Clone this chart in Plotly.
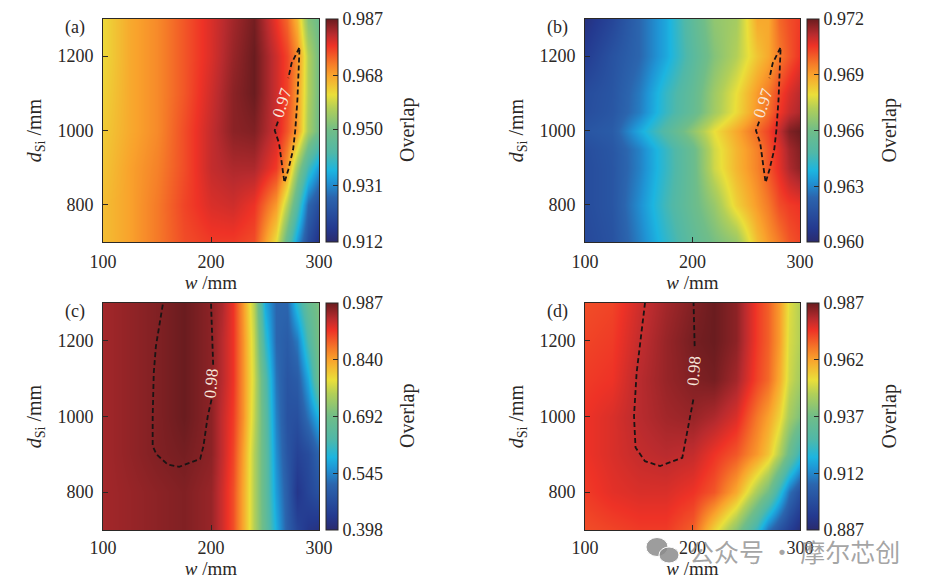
import plotly.graph_objects as go

# ---------- data ----------
D_ROWS = [700, 800, 900, 1000, 1100, 1200, 1300]
D_ROWS_B = [700, 800, 900, 950, 1000, 1050, 1100, 1200, 1300]
W_A = [100, 125, 150, 175, 200, 220, 240, 260, 270, 280, 290, 300]
W_C = [100, 150, 175, 200, 210, 220, 230, 240, 250, 260, 270, 280, 290, 300]

Z_A = [
    [.9653, .9683, .9720, .9758, .9773, .9773, .9758, .9615, .9465, .9330, .9210, .9143],
    [.9653, .9683, .9720, .9765, .9795, .9803, .9780, .9690, .9570, .9435, .9270, .9210],
    [.9645, .9683, .9713, .9758, .9810, .9825, .9825, .9773, .9690, .9540, .9405, .9323],
    [.9638, .9675, .9705, .9758, .9810, .9848, .9855, .9803, .9750, .9690, .9555, .9488],
    [.9630, .9675, .9705, .9750, .9803, .9848, .9870, .9803, .9765, .9690, .9570, .9495],
    [.9623, .9675, .9705, .9750, .9795, .9840, .9870, .9803, .9765, .9705, .9570, .9495],
    [.9623, .9675, .9705, .9750, .9795, .9833, .9863, .9780, .9735, .9660, .9518, .9488],
]
Z_B = [
    [.96132, .96168, .96288, .96420, .96540, .96612, .96672, .96852, .96912, .96960, .97008, .97032],
    [.96144, .96180, .96312, .96456, .96576, .96672, .96816, .96912, .96960, .97020, .97044, .97056],
    [.96144, .96180, .96288, .96432, .96576, .96756, .96864, .96948, .97008, .97068, .97128, .97164],
    [.96150, .96185, .96290, .96435, .96580, .96760, .96866, .96950, .97012, .97074, .97140, .97175],
    [.96180, .96204, .96360, .96504, .96660, .96792, .96888, .96984, .97032, .97104, .97176, .97200],
    [.96150, .96185, .96282, .96436, .96560, .96690, .96800, .96920, .96975, .97050, .97100, .97130],
    [.96144, .96180, .96276, .96432, .96552, .96684, .96792, .96912, .96960, .97032, .97080, .97116],
    [.96084, .96168, .96240, .96360, .96516, .96636, .96720, .96840, .96888, .96960, .97008, .97056],
    [.96036, .96120, .96240, .96360, .96540, .96660, .96696, .96888, .96888, .96984, .97020, .97044],
]
Z_C = [
    [.9576, .9693, .9752, .9634, .9340, .8987, .8339, .7514, .6689, .5806, .5040, .4569, .4275, .4157],
    [.9576, .9693, .9752, .9634, .9340, .8987, .8339, .7514, .6631, .5629, .4981, .4275, .4569, .4805],
    [.9576, .9752, .9811, .9693, .9399, .9045, .8398, .7514, .6631, .5511, .4864, .4510, .4687, .5158],
    [.9576, .9752, .9870, .9693, .9399, .9104, .8515, .7632, .6572, .5394, .4805, .4746, .5276, .5865],
    [.9576, .9752, .9870, .9693, .9457, .9163, .8515, .7691, .6454, .5276, .4864, .4981, .5747, .6925],
    [.9576, .9752, .9870, .9693, .9457, .9163, .8515, .7632, .6100, .5158, .4981, .5335, .6336, .7043],
    [.9576, .9752, .9870, .9693, .9516, .9163, .8456, .7514, .5747, .5158, .5158, .6042, .6748, .7043],
]
Z_D = [
    [.972, .973, .974, .974, .970, .955, .941, .923, .909, .901, .895, .889],
    [.974, .976, .977, .977, .975, .971, .961, .945, .937, .923, .909, .900],
    [.975, .977, .979, .980, .979, .975, .971, .963, .957, .947, .935, .923],
    [.975, .977, .980, .982, .983, .981, .977, .967, .962, .955, .945, .939],
    [.974, .975, .980, .983, .985, .986, .982, .973, .969, .961, .950, .945],
    [.973, .974, .979, .983, .986, .987, .984, .974, .970, .963, .951, .947],
    [.972, .973, .978, .982, .985, .987, .984, .974, .970, .963, .952, .947],
]

ZMIN = [0.912, 0.960, 0.398, 0.887]
ZMAX = [0.987, 0.972, 0.987, 0.987]
CBAR_TICKS = [
    [0.912, 0.931, 0.950, 0.968, 0.987],
    [0.960, 0.963, 0.966, 0.969, 0.972],
    [0.398, 0.545, 0.692, 0.840, 0.987],
    [0.887, 0.912, 0.937, 0.962, 0.987],
]
CBAR_LABELS = [
    ["0.912", "0.931", "0.950", "0.968", "0.987"],
    ["0.960", "0.963", "0.966", "0.969", "0.972"],
    ["0.398", "0.545", "0.692", "0.840", "0.987"],
    ["0.887", "0.912", "0.937", "0.962", "0.987"],
]
PANEL_LABELS = ["(a)", "(b)", "(c)", "(d)"]

# contour line pieces (w, d), broken at the inline labels
TOP_W1 = [262, 259, 263, 268, 271.5, 276, 278, 280, 282, 274.6, 271.6]
TOP_D1 = [1024, 1000, 966, 860, 894, 948, 1000, 1082, 1224, 1181, 1141]
C_W1 = [200.5, 197, 193, 190, 170.5, 160, 149.5, 146, 146, 147, 149, 155.6]
C_D1 = [1045, 1001, 922, 888, 867, 873, 900, 922, 1001, 1115, 1186, 1300]
C_W2 = [202, 200.8, 200]
C_D2 = [1137, 1221, 1300]
D_W1 = [200.8, 194.6, 190.5, 169.8, 155.8, 147, 145.6, 148, 151, 155.8]
D_D1 = [1045, 948, 891, 869, 882, 918, 1001, 1115, 1186, 1300]
D_W2 = [202, 201]
D_D2 = [1186, 1300]

CONTOURS = [
    [(TOP_W1, TOP_D1)],
    [(TOP_W1, TOP_D1)],
    [(C_W1, C_D1), (C_W2, C_D2)],
    [(D_W1, D_D1), (D_W2, D_D2)],
]
CONTOUR_TEXT = [
    ("0.97", 266, 1075, -72),
    ("0.97", 266, 1075, -72),
    ("0.98", 200, 1088, -85),
    ("0.98", 201, 1120, -85),
]

# ---------- style ----------
W, H = 927, 587
JET = [
    [0.00, "#2a2a6e"], [0.06, "#24398f"], [0.20, "#2b65ae"], [0.27, "#1f95d5"],
    [0.32, "#1cb5e0"], [0.40, "#50b8a8"], [0.50, "#70bd88"], [0.60, "#b2cf58"],
    [0.66, "#eadf3a"], [0.75, "#f9a22c"], [0.80, "#f57a28"], [0.88, "#ee3226"],
    [0.93, "#b92b2e"], [1.00, "#6a1c1f"],
]
SERIF = "Liberation Serif, Times New Roman, serif"
INK = "#2b2826"
BOXES = [
    (103, 319, 19, 242, 325.5),
    (585, 800, 19, 242, 807),
    (103, 319, 303, 530, 325.5),
    (585, 800, 303, 530, 807),
]
XTICK_GAP = [3, 3, 1, 1]
ZS = [(W_A, D_ROWS, Z_A), (W_A, D_ROWS_B, Z_B), (W_C, D_ROWS, Z_C), (W_A, D_ROWS, Z_D)]

fig = go.Figure()
ann = []
for i, (x0, x1, y0, y1, cx) in enumerate(BOXES):
    n = "" if i == 0 else str(i + 1)
    xw, yd, z = ZS[i]
    fig.add_trace(go.Heatmap(
        x=xw, y=yd, z=z, xaxis="x" + n, yaxis="y" + n,
        zmin=ZMIN[i], zmax=ZMAX[i], zsmooth="best", colorscale=JET,
        colorbar=dict(
            x=cx / W, xanchor="left", xpad=0, ypad=0,
            y=1 - (y0 + y1) / 2 / H, yanchor="middle",
            len=(y1 - y0) / H, thickness=12,
            tickmode="array", tickvals=CBAR_TICKS[i], ticktext=CBAR_LABELS[i],
            ticks="inside", ticklen=5, tickcolor=INK, tickwidth=1,
            outlinecolor=INK, outlinewidth=1,
            tickfont=dict(family=SERIF, size=18, color=INK),
        ),
    ))
    for px, py in CONTOURS[i]:
        fig.add_trace(go.Scatter(
            x=px, y=py, xaxis="x" + n, yaxis="y" + n, mode="lines",
            line=dict(color="#1a1414", width=1.8, dash="5px,3px"),
            hoverinfo="skip", showlegend=False,
        ))
    axis = dict(
        showgrid=False, zeroline=False, showline=True, mirror=True,
        linecolor=INK, linewidth=1, ticks="inside", ticklen=5, tickcolor=INK,
        tickfont=dict(family=SERIF, size=18, color=INK),
    )
    fig.update_layout({
        "xaxis" + n: dict(
            axis, domain=[x0 / W, x1 / W], range=[100, 300], anchor="y" + n,
            tickvals=[100, 200, 300], ticktext=["100", "200", "300"],
            ticklabelstandoff=XTICK_GAP[i],
            title=dict(text="<i>w</i> /mm", standoff=XTICK_GAP[i] + 1,
                       font=dict(family=SERIF, size=19, color=INK)),
        ),
        "yaxis" + n: dict(
            axis, domain=[1 - y1 / H, 1 - y0 / H], range=[700, 1300], anchor="x" + n,
            tickvals=[800, 1000, 1200], ticktext=["800", "1000", "1200"],
            ticklabelstandoff=5,
            title=dict(text="<i>d</i><sub>Si</sub> /mm", standoff=10,
                       font=dict(family=SERIF, size=20, color=INK)),
        ),
    })
    ann.append(dict(
        text=PANEL_LABELS[i], xref="paper", yref="paper", showarrow=False,
        x=(x0 - 28) / W, y=1 - (y0 + 8) / H, xanchor="center", yanchor="middle",
        font=dict(family=SERIF, size=18, color=INK),
    ))
    ann.append(dict(
        text="Overlap", xref="paper", yref="paper", showarrow=False, textangle=-90,
        x=(cx + 82) / W, y=1 - (y0 + y1) / 2 / H, xanchor="center", yanchor="middle",
        font=dict(family=SERIF, size=20, color=INK),
    ))
    t, tx, ty, ta = CONTOUR_TEXT[i]
    ann.append(dict(
        text=t, xref="x" + n, yref="y" + n, x=tx, y=ty, showarrow=False, textangle=ta,
        font=dict(family=SERIF, size=17, color="#f7e6da"),
    ))

# watermark
ann.append(dict(
    text="公众号 · 摩尔芯创", xref="paper", yref="paper", showarrow=False,
    x=794 / W, y=1 - 551 / H, xanchor="center", yanchor="middle",
    font=dict(family="Noto Sans CJK SC", size=25, color="rgba(130,130,130,0.72)"),
))
WATERMARK_ICON = [(657, 547, 11, 9.5), (669, 555, 10, 8)]
shapes = [
    dict(type="circle", xref="paper", yref="paper", line=dict(color="white", width=1),
         fillcolor="rgba(140,140,140,0.85)",
         x0=(a - rx) / W, x1=(a + rx) / W, y0=1 - (b + ry) / H, y1=1 - (b - ry) / H)
    for a, b, rx, ry in WATERMARK_ICON
]

fig.update_layout(
    width=W, height=H, margin=dict(l=0, r=0, t=0, b=0, autoexpand=False), autosize=False,
    paper_bgcolor="white", plot_bgcolor="white", annotations=ann, shapes=shapes,
    showlegend=False,
)
fig.write_html("out.html", config={"displayModeBar": False},
               post_script="document.body.style.margin='0';")
